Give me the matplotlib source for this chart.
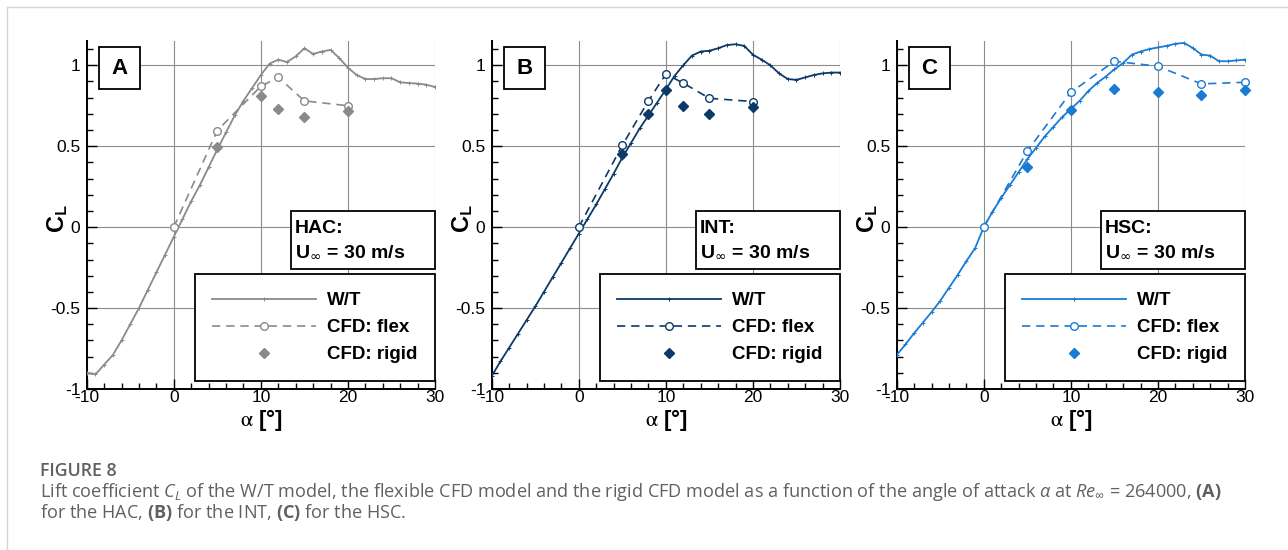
import matplotlib
matplotlib.use('Agg')
import matplotlib.pyplot as plt
from matplotlib.lines import Line2D
from matplotlib.patches import Rectangle
from matplotlib.ticker import MultipleLocator

plt.rcParams['font.family'] = ['Liberation Sans', 'DejaVu Sans']
plt.rcParams['axes.unicode_minus'] = False
plt.rcParams['mathtext.fontset'] = 'custom'
plt.rcParams['mathtext.rm'] = 'Open Sans'
plt.rcParams['mathtext.it'] = 'Open Sans:italic'
plt.rcParams['mathtext.bf'] = 'Open Sans:bold'

# ---------------- data ----------------
aoa_wt = list(range(-10, 31))
wt_hac = [-0.90, -0.91, -0.85, -0.79, -0.70, -0.60, -0.50, -0.39, -0.28, -0.17,
          -0.06, 0.05, 0.16, 0.26, 0.37, 0.48, 0.585, 0.69, 0.78, 0.86,
          0.94, 1.01, 1.035, 1.02, 1.055, 1.105, 1.07, 1.085, 1.095, 1.045,
          0.985, 0.94, 0.915, 0.915, 0.92, 0.92, 0.895, 0.89, 0.887, 0.88, 0.866]
wt_int = [-0.92, -0.83, -0.745, -0.66, -0.575, -0.49, -0.40, -0.31, -0.22, -0.13,
          -0.04, 0.05, 0.14, 0.235, 0.33, 0.43, 0.52, 0.61, 0.69, 0.77,
          0.85, 0.935, 1.0, 1.06, 1.085, 1.09, 1.105, 1.125, 1.13, 1.12,
          1.065, 1.035, 1.0, 0.95, 0.915, 0.91, 0.925, 0.94, 0.95, 0.955, 0.955]
wt_hsc = [-0.79, -0.725, -0.655, -0.59, -0.525, -0.455, -0.375, -0.295, -0.21, -0.13,
          0.0, 0.095, 0.18, 0.26, 0.34, 0.42, 0.49, 0.56, 0.62, 0.68,
          0.73, 0.78, 0.84, 0.89, 0.93, 0.975, 1.014, 1.065, 1.085, 1.10,
          1.11, 1.12, 1.133, 1.138, 1.107, 1.066, 1.06, 1.025, 1.025, 1.03, 1.035]

aoa_flex_hac = [0, 5, 10, 12, 15, 20]
flex_hac = [0.0, 0.597, 0.87, 0.926, 0.78, 0.75]
aoa_rigid_hac = [5, 10, 12, 15, 20]
rigid_hac = [0.494, 0.81, 0.73, 0.68, 0.716]

aoa_flex_int = [0, 5, 8, 10, 12, 15, 20]
flex_int = [0.0, 0.506, 0.78, 0.946, 0.89, 0.796, 0.776]
aoa_rigid_int = [5, 8, 10, 12, 15, 20]
rigid_int = [0.45, 0.70, 0.85, 0.747, 0.70, 0.74]

aoa_flex_hsc = [0, 5, 10, 15, 20, 25, 30]
flex_hsc = [0.0, 0.47, 0.833, 1.025, 0.994, 0.885, 0.895]
aoa_rigid_hsc = [5, 10, 15, 20, 25, 30]
rigid_hsc = [0.37, 0.726, 0.854, 0.835, 0.819, 0.846]

panel_letters = ['A', 'B', 'C']
config_names = ['HAC:', 'INT:', 'HSC:']
speed_text = r'U$_{\infty}$ = 30 m/s'
colors = ['#8a8a8a', '#0b3a68', '#1a7bd4']
legend_labels = ['W/T', 'CFD: flex', 'CFD: rigid']
xticks = [-10, 0, 10, 20, 30]
xticklabels = ['-10', '0', '10', '20', '30']
yticks = [-1, -0.5, 0, 0.5, 1]
yticklabels = ['-1', '-0.5', '0', '0.5', '1']

panels = [
    (aoa_wt, wt_hac, aoa_flex_hac, flex_hac, aoa_rigid_hac, rigid_hac),
    (aoa_wt, wt_int, aoa_flex_int, flex_int, aoa_rigid_int, rigid_int),
    (aoa_wt, wt_hsc, aoa_flex_hsc, flex_hsc, aoa_rigid_hsc, rigid_hsc),
]

# ---------------- figure ----------------
W, H = 1288, 550
fig = plt.figure(figsize=(W / 100, H / 100), dpi=100)
lefts = [86.7, 491.7, 896.7]
top_px, bot_px, axw = 41, 389, 348.3

dash = (0, (5, 3.5))

for i, (xw, yw, xf, yf, xr, yr) in enumerate(panels):
    c = colors[i]
    ax = fig.add_axes([lefts[i] / W, (H - bot_px) / H, axw / W, (bot_px - top_px) / H])
    ax.plot(xw, yw, color=c, lw=1.3, marker='+', ms=3, mew=0.7, zorder=3)
    ax.plot(xf, yf, color=c, lw=1.2, ls=dash, marker='o', ms=5.5, mfc='white',
            mec=c, mew=1.0, zorder=4, clip_on=False)
    ax.plot(xr, yr, ls='none', color=c, marker='D', ms=5.2, zorder=4, clip_on=False)

    ax.set_xlim(-10, 30)
    ax.set_ylim(-1, 1.15)
    for s in ['top', 'right']:
        ax.spines[s].set_visible(False)
    for s in ['left', 'bottom']:
        ax.spines[s].set_linewidth(1.4)
    ax.set_xticks(xticks)
    ax.set_xticklabels(xticklabels)
    ax.set_yticks(yticks)
    ax.set_yticklabels(yticklabels)
    ax.xaxis.set_minor_locator(MultipleLocator(2))
    ax.yaxis.set_minor_locator(MultipleLocator(0.1))
    ax.tick_params(which='both', direction='in', top=False, right=False, width=1)
    ax.tick_params(which='major', length=7, labelsize=12.5)
    ax.tick_params(which='minor', length=4)
    ax.tick_params(axis='x', which='major', pad=1)
    ax.tick_params(axis='y', which='major', pad=4.5)
    ax.grid(True, which='major', color='#8c8c8c', lw=0.8)
    ax.set_axisbelow(True)

    # axis labels
    ax.text(-0.082, 0.49, r'C$_{\mathbf{L}}$', rotation=90, transform=ax.transAxes,
            ha='center', va='center', fontsize=17, fontweight='bold',
            math_fontfamily='stixsans')
    ax.text(0.5, -0.09, r'$\mathrm{\alpha}$ [°]', transform=ax.transAxes, ha='center',
            va='center', fontsize=16, fontweight='bold', math_fontfamily='stix')

    # panel letter box
    ax.add_patch(Rectangle((0.034, 0.861), 0.12, 0.121, transform=ax.transAxes,
                           facecolor='white', edgecolor='black', lw=1.3,
                           zorder=6, clip_on=False))
    ax.text(0.094, 0.921, panel_letters[i], transform=ax.transAxes, ha='center',
            va='center', fontsize=16, fontweight='bold', zorder=7)

    # info box
    ax.add_patch(Rectangle((0.586, 0.345), 0.414, 0.167, transform=ax.transAxes,
                           facecolor='white', edgecolor='black', lw=1.3,
                           zorder=6, clip_on=False))
    ax.text(0.597, 0.447, config_names[i], transform=ax.transAxes, ha='left',
            va='baseline', fontsize=14, fontweight='bold', zorder=7)
    ax.text(0.597, 0.38, speed_text, transform=ax.transAxes, ha='left',
            va='baseline', fontsize=14, fontweight='bold', zorder=7,
            math_fontfamily='dejavusans')

    # legend
    handles = [
        Line2D([], [], color=c, lw=1.3, marker='+', ms=3, mew=0.7),
        Line2D([], [], color=c, lw=1.2, ls=dash, marker='o', ms=5.5, mfc='white', mec=c, mew=1.0),
        Line2D([], [], ls='none', color=c, marker='D', ms=5.2),
    ]
    leg = ax.legend(handles, legend_labels, loc='lower right',
                    bbox_to_anchor=(1.0, 0.023), bbox_transform=ax.transAxes,
                    borderaxespad=0, frameon=True, fancybox=False,
                    edgecolor='black', framealpha=1, handlelength=5.5,
                    handletextpad=0.6, borderpad=0.95, labelspacing=0.52,
                    numpoints=1, prop={'weight': 'bold', 'size': 13.5})
    leg.get_frame().set_linewidth(1.3)
    leg.set_zorder(6)

# page border
fig.add_artist(Line2D([7 / W, 7 / W], [0, 1 - 7 / H], transform=fig.transFigure,
                      color='#d5d5d5', lw=1))
fig.add_artist(Line2D([7 / W, 1], [1 - 7 / H, 1 - 7 / H], transform=fig.transFigure,
                      color='#d5d5d5', lw=1))

# caption
cap_color = '#606060'
fig.text(40 / W, 1 - 476 / H, 'FIGURE 8', fontsize=12.8, color=cap_color,
         family='Open Sans', fontweight='semibold', va='baseline', ha='left')
fig.text(40 / W, 1 - 497 / H,
         r'Lift coefficient $C_L$ of the W/T model, the flexible CFD model and the rigid CFD model '
         r'as a function of the angle of attack $\alpha$ at $Re_{\infty}$ = 264000, $\mathbf{(A)}$',
         fontsize=13.1, color=cap_color, family='Open Sans', va='baseline', ha='left')
fig.text(40 / W, 1 - 518 / H,
         r'for the HAC, $\mathbf{(B)}$ for the INT, $\mathbf{(C)}$ for the HSC.',
         fontsize=13.1, color=cap_color, family='Open Sans', va='baseline', ha='left')

fig.savefig('out.png', dpi=100)
